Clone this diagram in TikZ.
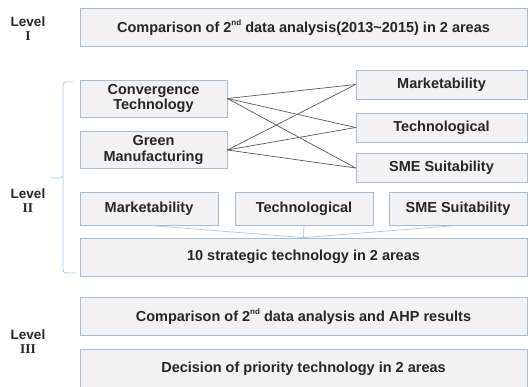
\documentclass[tikz,border=0pt]{standalone}
\usepackage{fontspec}
\setmainfont{Liberation Sans}
\newfontfamily\romfont{Liberation Serif}
\definecolor{BF}{HTML}{F2F2F2}
\definecolor{BD}{HTML}{A9BDD3}
\definecolor{BR}{HTML}{A6C8E8}
\definecolor{TX}{HTML}{262626}
\definecolor{LN}{HTML}{5A5A5A}
\newcommand{\nd}{\raisebox{0.5em}{\fontsize{8}{8}\selectfont nd}}
\tikzset{
    BX/.style ={rectangle, draw=BD, fill=BF, line width=0.8pt, text=TX, align=center,
                font=\bfseries\fontsize{14.5}{15.5}\selectfont},
    RA1/.style ={BX, minimum width = 447pt, minimum height = 38pt},
    RA2/.style ={BX, minimum width = 147pt, minimum height = 37pt},
    RA3/.style ={BX, minimum width = 171pt, minimum height = 29pt},
    RA4/.style ={BX, minimum width = 138pt, minimum height = 33pt},
    LV/.style ={align=center, text=TX, font=\bfseries\fontsize{13.5}{14}\selectfont},
    CN/.style ={LN, line width=0.7pt},
    CB/.style ={BR, line width=0.7pt}}

\begin{document}
\begin{tikzpicture}[x=1pt,y=-1pt]
        \useasboundingbox (0,0) rectangle (528,387);
        % level I
        \node[LV] (0) at(28,29){Level\\{\romfont I}};
        \node[RA1] (1) at(303.5,27.5){Comparison of 2\nd{} data analysis(2013\textasciitilde2015) in 2 areas};
        % level II
        \node[LV] (10) at(28,201){Level\\{\romfont II}};
        \node[RA2] (11) at(153.5,98.5){Convergence\\Technology};
        \node[RA2] (12) at(153.5,150){Green\\Manufacturing};
        \node[RA3] (13) at(441.5,84.5){Marketability};
        \node[RA3] (14) at(441.5,127.5){Technological};
        \node[RA3] (15) at(441.5,168){SME Suitability};
        \node[RA4] (16) at(149,208.5){Marketability};
        \node[RA4] (17) at(304,208.5){Technological};
        \node[RA4] (18) at(458,208.5){SME Suitability};
        \node[RA1] (19) at(303.5,257){10 strategic technology in 2 areas};
        \draw[CN] (11.east) --(13.west);
        \draw[CN] (11.east) --(14.west);
        \draw[CN] (11.east) --(15.west);
        \draw[CN] (12.east) --(13.west);
        \draw[CN] (12.east) --(14.west);
        \draw[CN] (12.east) --(15.west);
        \draw[CB] (16.south) --(19.north);
        \draw[CB] (17.south) --(19.north);
        \draw[CB] (18.south) --(19.north);
        \draw[CB, rounded corners=3pt] (73,82) -- (63,82) -- (63,178) -- (51,178);
        \draw[CB, rounded corners=3pt] (63,176) -- (63,273) -- (76,273);
        % level III
        \node[LV] (20) at(28,342){Level\\{\romfont III}};
        \node[RA1] (21) at(303.5,316.5){Comparison of 2\nd{} data analysis and AHP results};
        \node[RA1] (22) at(303.5,368.5){Decision of priority technology in 2 areas};
    \end{tikzpicture}
\end{document}
